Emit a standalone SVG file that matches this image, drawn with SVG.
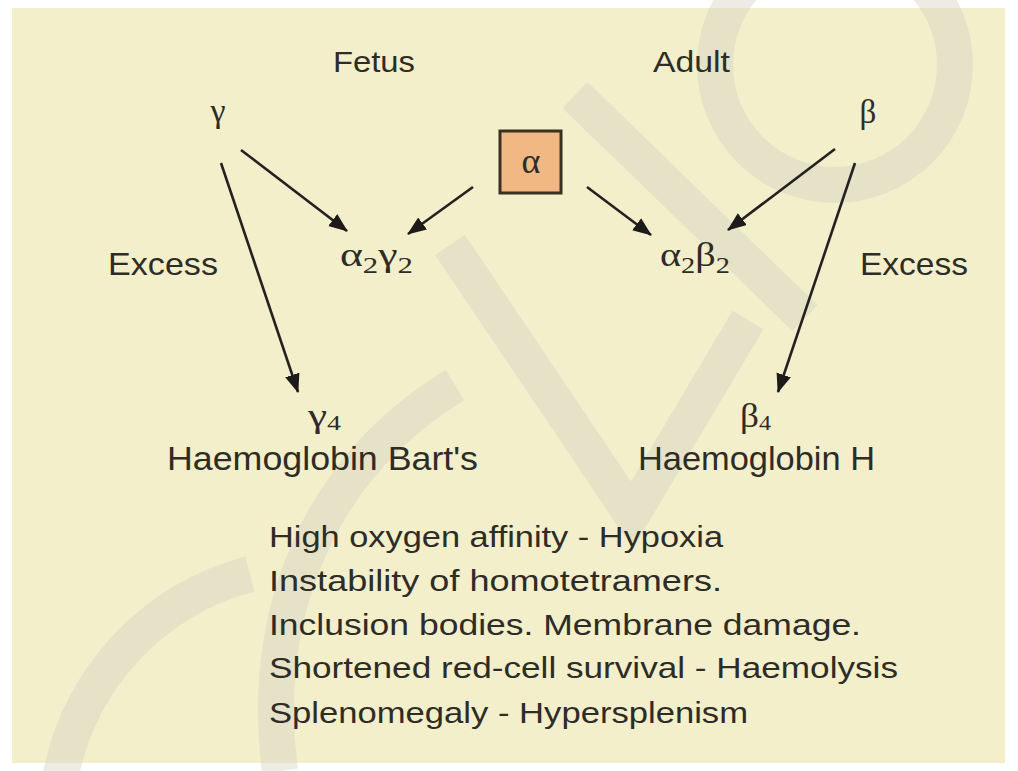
<svg xmlns="http://www.w3.org/2000/svg" width="1018" height="771" viewBox="0 0 1018 771">
  <style>
    .lbl { font-family: "Liberation Sans", Arial, sans-serif; fill: #2d2c27; }
    .grk { font-family: "Liberation Serif", "Times New Roman", serif; fill: #2d2c27; }
    .conn { stroke: #232220; stroke-width: 2.6; fill: none; marker-end: url(#ah); }
    .wm { stroke: #d6d3c4; stroke-width: 36; fill: none; opacity: 0.45; }
  </style>
  <defs>
    <marker id="ah" markerUnits="userSpaceOnUse" markerWidth="20" markerHeight="16" refX="18" refY="7.5" orient="auto">
      <path d="M0,0 L19,7.5 L0,15 z" fill="#1c1b19"/>
    </marker>
  </defs>

  <rect x="0" y="0" width="1018" height="771" fill="#ffffff"/>
  <rect id="background" x="12" y="8" width="993" height="755" fill="#f3efcb"/>

  <g id="watermark">
    <circle class="wm" cx="835" cy="65" r="120"/>
    <path class="wm" d="M 60 780 A 260 260 0 0 1 250 574"/>
    <path class="wm" d="M 280 771 C 262 640 300 480 455 385"/>
    <path class="wm" d="M 450 245 L 632 515 L 748 320"/>
    <path class="wm" d="M 575 95 L 805 318"/>
  </g>

  <g id="connectors">
    <line class="conn" x1="241" y1="150" x2="347" y2="231"/>
    <line class="conn" x1="473" y1="187" x2="408" y2="234"/>
    <line class="conn" x1="587" y1="187" x2="651" y2="235"/>
    <line class="conn" x1="835" y1="149" x2="728" y2="230"/>
    <line class="conn" x1="221" y1="163" x2="298" y2="392"/>
    <line class="conn" x1="855" y1="163" x2="778" y2="392"/>
  </g>

  <g id="fetus"><text class="lbl" x="333" y="72" font-size="30" textLength="82" lengthAdjust="spacingAndGlyphs">Fetus</text></g>
  <g id="adult"><text class="lbl" x="653" y="72" font-size="30" textLength="77" lengthAdjust="spacingAndGlyphs">Adult</text></g>

  <g id="gamma"><text class="grk" x="218" y="122" font-size="34" text-anchor="middle">γ</text></g>
  <g id="beta"><text class="grk" x="868" y="123" font-size="33" text-anchor="middle">β</text></g>

  <g id="alpha">
    <rect x="500" y="131" width="61" height="62" fill="#f2b884" stroke="#3a3022" stroke-width="3"/>
    <text class="grk" x="531" y="173" font-size="36" text-anchor="middle">α</text>
  </g>

  <g id="a2g2"><text class="grk" x="340" y="266" font-size="34" textLength="73" lengthAdjust="spacingAndGlyphs">α<tspan font-size="24" dy="7">2</tspan><tspan dy="-7">γ</tspan><tspan font-size="24" dy="7">2</tspan></text></g>
  <g id="a2b2"><text class="grk" x="660" y="266" font-size="34" textLength="70" lengthAdjust="spacingAndGlyphs">α<tspan font-size="24" dy="7">2</tspan><tspan dy="-7">β</tspan><tspan font-size="24" dy="7">2</tspan></text></g>

  <g id="excess-left"><text class="lbl" x="108" y="275" font-size="32" textLength="110" lengthAdjust="spacingAndGlyphs">Excess</text></g>
  <g id="excess-right"><text class="lbl" x="860" y="275" font-size="32" textLength="108" lengthAdjust="spacingAndGlyphs">Excess</text></g>

  <g id="bart">
    <text class="grk" x="308" y="427" font-size="34" textLength="33" lengthAdjust="spacingAndGlyphs">γ<tspan font-size="22" dy="3">4</tspan></text>
    <text class="lbl" x="167" y="470" font-size="34" textLength="311" lengthAdjust="spacingAndGlyphs">Haemoglobin Bart's</text>
  </g>
  <g id="hbh">
    <text class="grk" x="740" y="427" font-size="34" textLength="31" lengthAdjust="spacingAndGlyphs">β<tspan font-size="22" dy="3">4</tspan></text>
    <text class="lbl" x="638" y="470" font-size="34" textLength="237" lengthAdjust="spacingAndGlyphs">Haemoglobin H</text>
  </g>

  <g id="effects" class="lbl" font-size="29">
    <text x="269" y="547" textLength="454" lengthAdjust="spacingAndGlyphs">High oxygen affinity - Hypoxia</text>
    <text x="269" y="591" textLength="453" lengthAdjust="spacingAndGlyphs">Instability of homotetramers.</text>
    <text x="269" y="635" textLength="592" lengthAdjust="spacingAndGlyphs">Inclusion bodies. Membrane damage.</text>
    <text x="269" y="678" textLength="629" lengthAdjust="spacingAndGlyphs">Shortened red-cell survival - Haemolysis</text>
    <text x="269" y="723" textLength="479" lengthAdjust="spacingAndGlyphs">Splenomegaly - Hypersplenism</text>
  </g>
</svg>
